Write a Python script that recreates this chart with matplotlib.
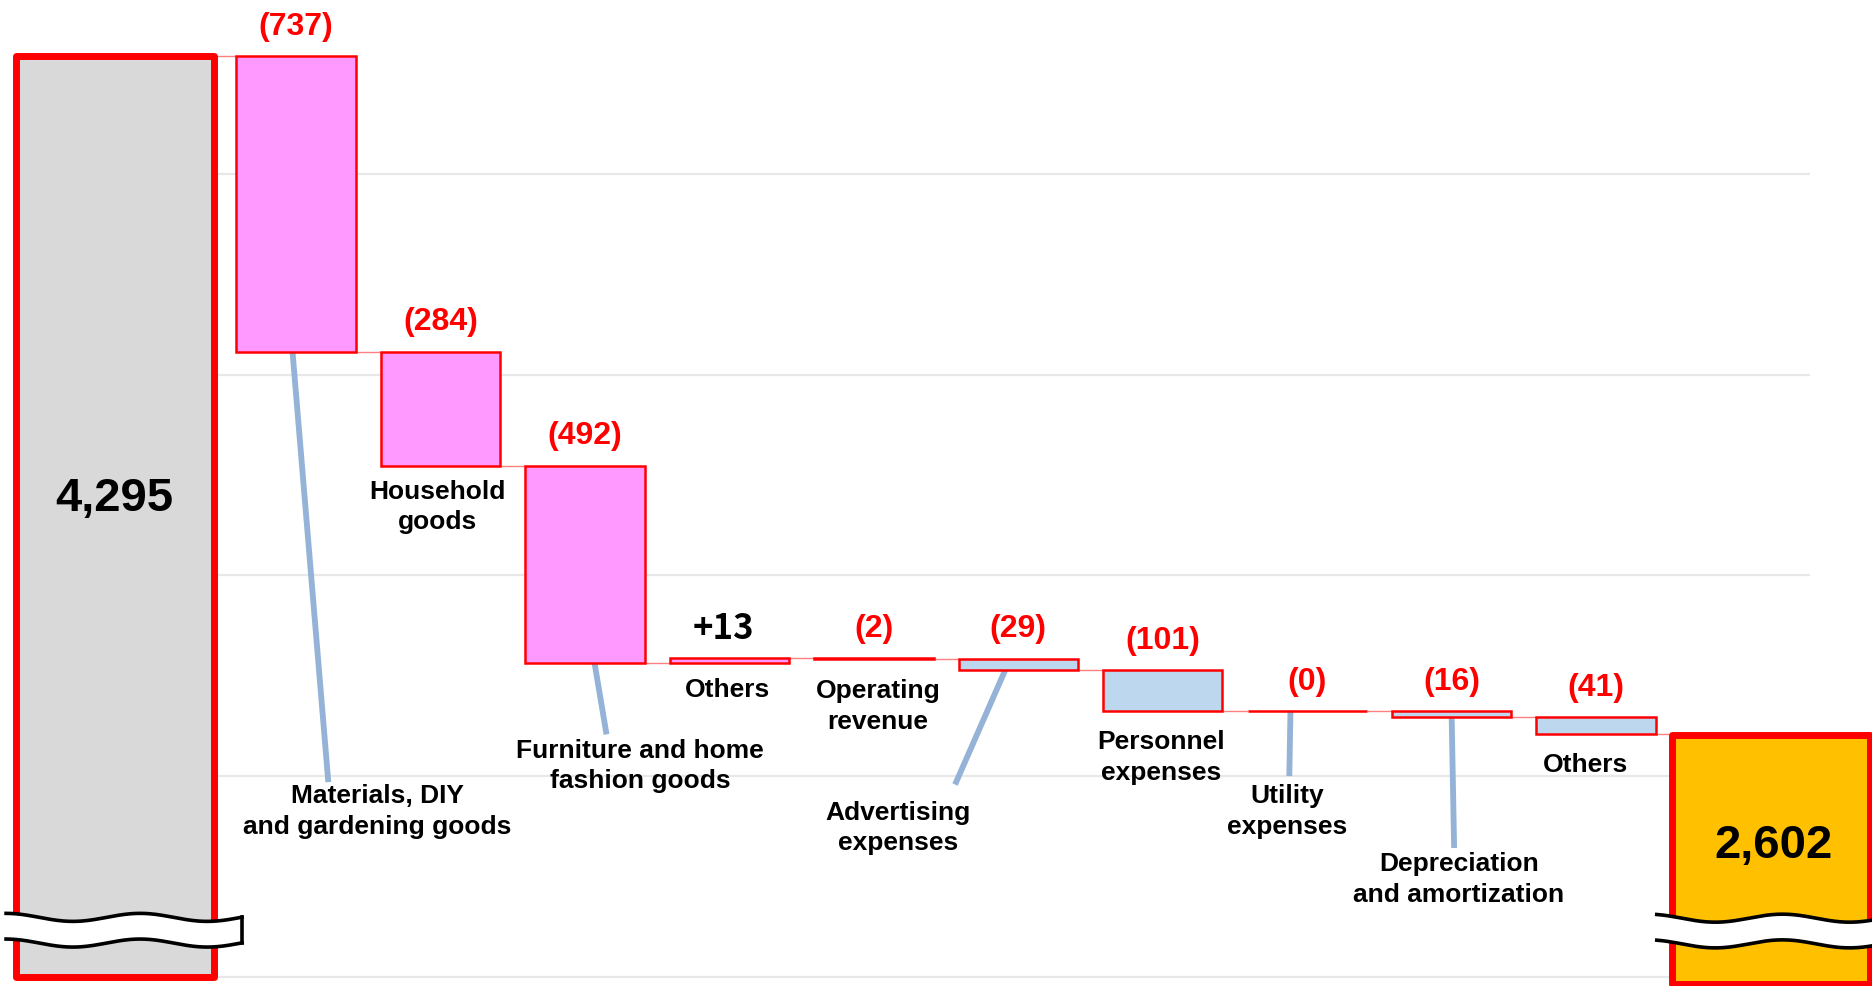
import numpy as np
import matplotlib.pyplot as plt

plt.rcParams['font.family'] = ['Liberation Sans', 'DejaVu Sans']

start_value = 4295
end_value = 2602
step_names = ['Materials, DIY\nand gardening goods', 'Household\ngoods',
              'Furniture and home\nfashion goods', 'Others', 'Operating\nrevenue',
              'Advertising\nexpenses', 'Personnel\nexpenses', 'Utility\nexpenses',
              'Depreciation\nand amortization', 'Others']
step_values = [-737, -284, -492, 13, -2, -29, -101, 0, -16, -41]
step_colors = ['#ff99ff'] * 5 + ['#bdd7ee'] * 5
grid_values = [2000, 2500, 3000, 3500, 4000]

# hand placed positions of the category names (x, y in data units)
name_pos = [(1.56, 2412), (1.98, 3171), (3.38, 2525), (3.99, 2714), (5.03, 2674),
            (5.17, 2371), (6.99, 2546), (7.86, 2412), (9.05, 2243), (9.93, 2527)]
# leader lines: bar index, start x, end x, end y
leaders = [(0, 0.975, 1.223, 2485), (2, 3.066, 3.149, 2604), (5, 5.909, 5.562, 2479),
           (7, 7.884, 7.876, 2500), (8, 9.0, 9.017, 2321)]

steps = np.array(step_values)
after = start_value + np.cumsum(steps)
before = after - steps
lows = np.minimum(before, after)
x = np.arange(1, len(steps) + 1)
w = 0.826
x_start = -0.256
x_end = 11.21
w_big = 1.37

fig = plt.figure(figsize=(18.72, 9.86), dpi=100)
ax = fig.add_axes([0, 0, 1, 1])
ax.axis('off')
ax.set_xlim(-1.05, 11.91)
ax.set_ylim(1977, 4434)

ax.hlines(grid_values, x_start + w_big / 2, 11.48, color='#e8e8e8', lw=1.6, zorder=0)

# start and end totals
ax.bar(x_start, start_value - 2000, bottom=2000, width=w_big, color='#d9d9d9',
       edgecolor='red', lw=5, joinstyle='round', zorder=2)
ax.bar(x_end, end_value - 1983, bottom=1983, width=w_big, color='#ffc000',
       edgecolor='red', lw=5, joinstyle='round', zorder=2)

# steps
ax.bar(x, np.abs(steps), bottom=lows, width=w, color=step_colors,
       edgecolor='red', lw=1.8, zorder=3)

# connectors
levels = np.concatenate([[start_value], after])
lefts = np.concatenate([[x_start + w_big / 2], x + w / 2])
rights = np.concatenate([x - w / 2, [x_end - w_big / 2]])
ax.hlines(levels, lefts, rights, color='#ff8080', lw=1, zorder=1)

# value labels
tops = np.maximum(before, after)
for xi, v, t in zip(x, steps, tops):
    if v > 0:
        ax.annotate(f'+{v}', (xi, t), xytext=(-4, 21), textcoords='offset points',
                    ha='center', va='center', fontsize=25, fontweight='bold',
                    family=['Noto Sans CJK JP', 'DejaVu Sans'], color='black')
    else:
        ax.annotate(f'({-v})', (xi, t), xytext=(0, 21), textcoords='offset points',
                    ha='center', va='center', fontsize=23, fontweight='bold', color='red')

ax.text(x_start, 3190, f'{start_value:,}', ha='center', va='center', fontsize=34,
        fontweight='bold', zorder=4)
ax.text(x_end + 0.02, 2327, f'{end_value:,}', ha='center', va='center', fontsize=34,
        fontweight='bold', zorder=4)

for name, (nx, ny) in zip(step_names, name_pos):
    ax.text(nx, ny, name, ha='center', va='center', fontsize=19, fontweight='bold',
            linespacing=1.35)

for i, x0, x1, y1 in leaders:
    ax.plot([x0, x1], [lows[i], y1], color='#95b3d7', lw=4.2, solid_capstyle='butt', zorder=2)


# wavy break marks
def break_band(x0, x1, xpeak, yc, closed):
    xs = np.linspace(x0, x1, 200)
    wave = 10 * np.cos(2 * np.pi * (xs - xpeak) / 0.93)
    top = yc + 32 + wave
    bot = yc - 32 + wave
    ax.fill_between(xs, bot, top, color='white', lw=0, zorder=5)
    ax.plot(xs, top, color='black', lw=2.6, zorder=6)
    ax.plot(xs, bot, color='black', lw=2.6, zorder=6)
    if closed:
        ax.plot([x1, x1], [bot[-1], top[-1]], color='black', lw=2.6, zorder=6)


break_band(-1.008, 0.626, -0.08, 2116, True)
break_band(10.42, 11.95, 11.29, 2114, False)

fig.savefig('out.png', dpi=100)
